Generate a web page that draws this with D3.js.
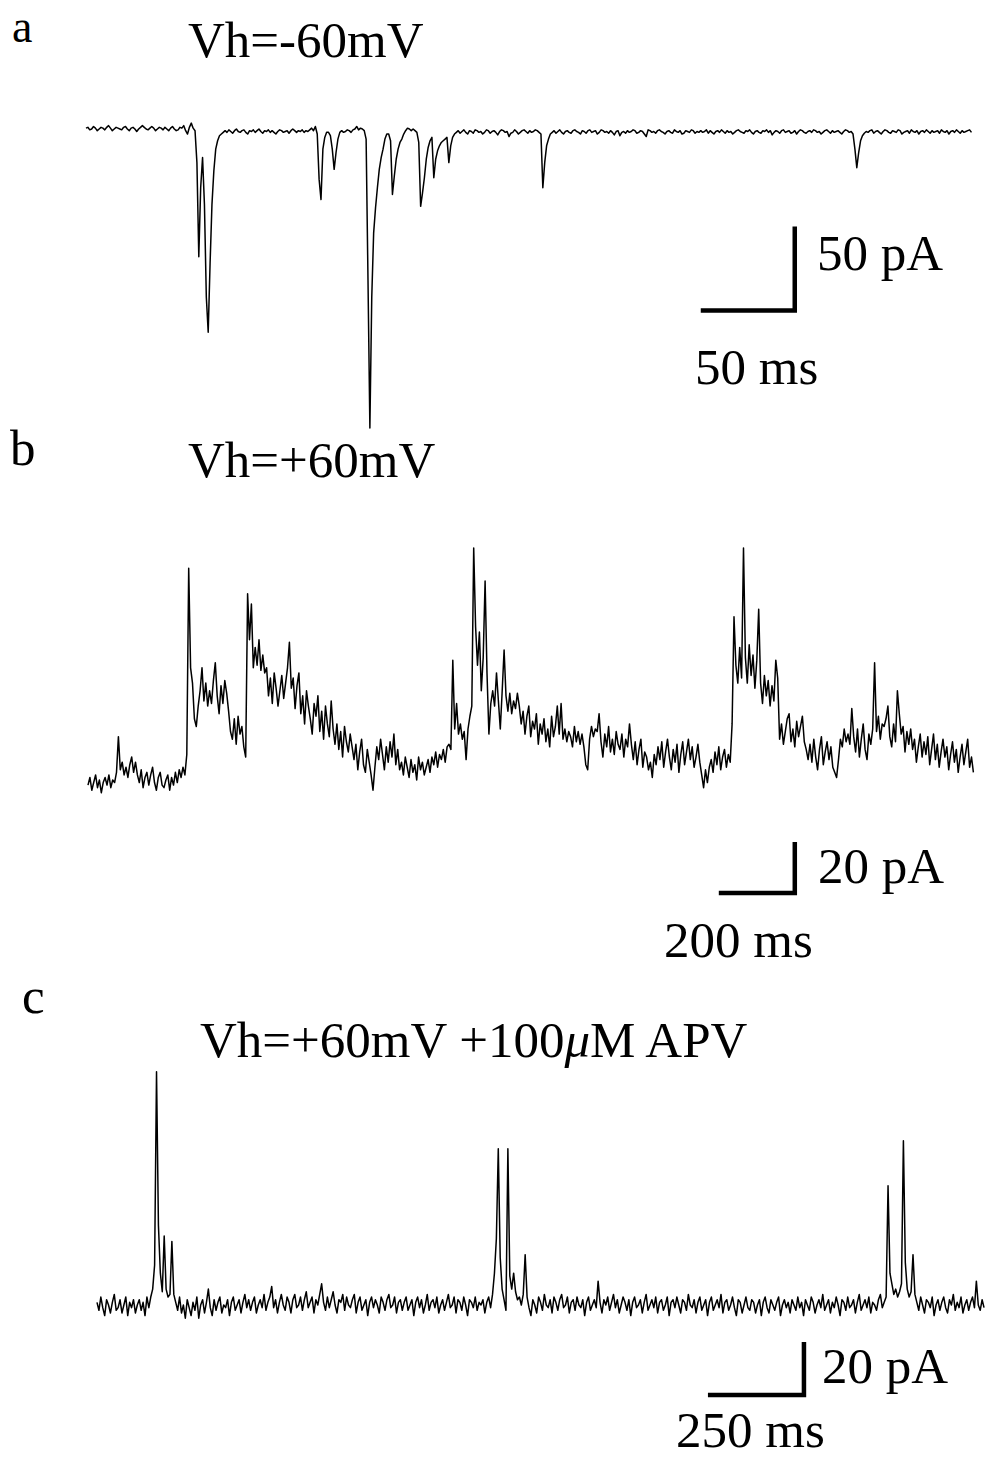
<!DOCTYPE html>
<html><head><meta charset="utf-8">
<script src="https://cdn.jsdelivr.net/npm/d3@7"></script>
<style>body{margin:0;background:#fff}svg{display:block}</style>
</head><body><svg id="fig" width="986" height="1459"></svg>
<script>
// ---------------- DATA ----------------
const panelLetters = ["a", "b", "c"];
const holdingLabels = ["Vh=-60mV", "Vh=+60mV", "Vh=+60mV +100"];
const sampleMs = [1, 5, 5];              // sampling interval of each trace (ms)
const barTimeMs = [50, 200, 250];        // time scale bars
const barCurrentPA = [50, 20, 20];       // current scale bars

// trace a: Vh=-60mV, current in pA, 1 ms per sample
const traceA = [
 0.5,1,-0.5,0,1.5,0.5,-1,0,1,0.5,-0.5,1,2,0.5,-1,0,1,0.5,0,-0.5,
 1,1.5,0,-1,0.5,1,0,-1.5,0,1,2,1,0,-0.5,0.5,1.5,0.5,-1,0,1,
 0.5,-0.5,1,0,-1,0.5,1.5,0,-1,-0.5,1,0.5,2,-1,-3,1,3.5,
 0.5,-1,-20,-76,-35,-17,-45,-100,-121,-80,-45,-25,-12,-7,-4,-3,-2,
 -1,-2,-0.5,-1.5,-2.5,-1,0,-1.5,-2,-1,-0.5,-2,-3,-1,-1.5,-0.5,-2,-1,0,-1.5,
 -2.5,-1,-1.5,-0.5,-2,-1,-2,-3,-1.5,-0.5,-1,-2,-1.5,-1,-2.5,-1,0,-1,-2,-1,
 -1.5,-0.5,-2,-1,-1.5,-0.5,0.5,-1,1.5,
 -3,-30,-42,-12,-5,-2,-2,-4,-12,-24,-14,-6,-2,
 -1,-2,-1.5,-0.5,-1,-2,-0.5,0,1.5,-0.5,0.5,0,
 -1,-6,-90,-178,-100,-62,-47,-35,-24,-17,
 -12,-6,-3,-3,-7,-39,-28,-18,-12,-8,
 -6,-3,-1,0.5,0,-1,0,-1,-2,-8,
 -46,-38,-29,-18,-11,-7,-5,-29,-18,-13,
 -10,-8,-7,-6,-5,-20,-10,-5,-3,-2,
 -1,-2.5,-1.5,-0.5,-2,-3,-1,-1.5,-2.5,-0.5,-1,-2,-1.5,-3,-2,-0.5,-1,-2.5,-1.5,-1,
 -2,-3.5,-1.5,-0.5,-1,-2,-1.5,-4.5,-2.5,-2,-0.5,-1.5,-3,-2,-1,-0.5,-1.5,-2.5,-1,-2,
 -1.5,-0.5,-1,-2,
 -3,-35,-20,-10,-6,-3,
 -2,-1,-2.5,-1.5,-0.5,-2,-3,-1.5,-1,-2,-2.5,-1,-0.5,-1.5,-2,-3,-1,-1.5,-2.5,-1,
 -0.5,-2,-1.5,-1,-3,-2,-0.5,-1,-2,-1.5,-2.5,-1,-2,-3.5,-1.5,-1,-4,-2,-1.5,-2.5,
 -1,-2,-1.5,-0.5,-1,-2.5,-2,-1,-1.5,-3,-4.5,-0.5,-1,-2,-1.5,-2.5,-1,-0.5,-1.5,-2,
 -3,-1.5,-1,-2,-2.5,-0.5,-1.5,-2,-1,-3,-2.5,-1,-1.5,-2,-0.5,-1,-2.5,-1.5,-2,-1,
 -2,-1.5,-0.5,-2.5,-1,-2,-3,-1.5,-1,-2,-0.5,-1.5,-2.5,-1,-2,-1.5,-3,-2,-1,-0.5,
 -1.5,-2,-2.5,-1,-1.5,-0.5,-2,-3,-1.5,-1,-2,-2.5,-1,-1.5,-0.5,-2,-1,-3.5,-2,-1,
 -1.5,-2.5,-1,-0.5,-2,-1.5,-1,-2.5,-2,-1,-3,-1.5,-0.5,-1,-2,-2.5,-1.5,-1,-2,-0.5,
 -1,-2,-1.5,-3,-2,-1,-0.5,-1.5,-2.5,-1,-2,-1.5,-1,-2,-3,-1.5,-0.5,-1,-2,-1.5,
 -3,-12,-23,-14,-7,-4,-2.5,
 -1.5,-2,-1,-0.5,-2.5,-1.5,-1,-2,-3,-1.5,-0.5,-1,-2,-2.5,-1,-1.5,-2,-0.5,-1,-3,
 -2,-1.5,-1,-2.5,-0.5,-1.5,-2,-1,-3,-1.5,-1,-2,-0.5,-1.5,-2.5,-1,-2,-1.5,-1,-2.5,
 -0.5,-1.5,-2,-1,-3,-1.5,-1,-2,-0.5,-1.5,-2.5,-1,-2,-1.5,-1,-0.5,-2
];

// trace b: Vh=+60mV, current in pA, 5 ms per sample
const traceB = [
 -2,1,-4,-1,2,-3,0,-5,-1,1,-2,2,-3,0,-1,3,17,4,7,2,
 5,1,6,9,3,7,2,-1,4,-3,1,3,-2,2,5,-1,-4,1,3,-2,
 -3,0,2,-4,1,-2,3,-1,4,1,5,2,10,83,44,38,24,21,29,35,
 44,31,38,29,35,30,39,46,33,26,37,30,39,34,27,19,16,24,14,25,
 18,21,13,9,73,55,69,44,52,45,55,43,49,42,44,33,40,30,42,36,
 29,35,41,32,38,44,54,36,40,28,37,42,26,33,22,35,29,24,18,30,
 25,33,19,27,16,29,22,17,31,20,14,22,12,19,9,21,15,11,18,13,
 8,14,4,11,16,6,3,12,7,2,-4,5,13,8,16,10,4,13,7,15,
 9,18,6,12,4,7,2,9,5,1,8,3,6,0,9,4,7,2,5,8,
 3,9,6,11,5,10,8,12,7,13,14,12,47,20,30,18,22,16,19,8,
 20,25,29,91,60,45,58,35,48,78,42,18,30,35,29,42,31,20,35,51,
 33,27,34,26,31,28,34,29,22,27,18,25,29,17,23,20,26,14,22,18,
 24,15,20,13,25,17,21,29,18,30,16,20,15,19,17,13,21,15,19,14,
 18,13,6,4,16,21,17,20,19,26,15,9,18,13,21,11,16,10,19,14,
 12,18,9,16,13,22,14,8,15,6,12,16,5,11,9,4,7,1,10,6,
 13,8,15,5,11,16,9,4,12,7,14,3,10,15,6,11,16,8,13,5,
 9,14,7,2,-3,4,-1,5,8,3,11,6,13,4,9,12,5,10,7,22,
 64,45,38,52,40,91,48,38,53,41,49,36,47,67,38,30,41,33,39,29,
 37,31,47,40,16,22,14,19,24,26,15,20,13,23,17,21,25,15,12,8,
 14,7,16,9,4,12,17,6,11,15,8,13,5,3,1,8,16,13,20,15,
 18,14,28,17,11,20,9,16,22,12,8,18,14,20,46,19,25,16,22,21,
 24,29,17,13,22,15,35,26,18,21,11,19,14,20,12,16,7,13,18,9,
 15,10,17,6,12,18,8,14,5,11,16,9,13,4,10,15,7,12,3,9,
 14,6,11,16,5,9,3
];

// trace c: Vh=+60mV + 100 uM APV, current in pA, 5 ms per sample
const traceC = [
 1,-2,3,-1,-4,2,0,-3,1,4,-2,-1,2,-3,0,3,-4,1,-1,2,
 -3,0,2,-2,1,-4,3,-1,3,6,15,88,30,12,5,26,6,3,4,24,
 4,1,-2,3,-3,0,-5,2,-1,-4,1,-2,3,-5,0,2,-3,1,6,-1,
 -4,2,-2,1,3,-3,0,-1,2,-4,1,3,-2,0,2,-3,1,4,-1,2,
 -2,1,3,-3,0,2,-1,4,-2,1,3,7,-1,2,-3,1,4,0,-2,3,
 1,-3,2,4,-1,0,3,-2,2,5,-1,1,3,-3,2,0,4,8,1,-2,
 3,-1,2,5,0,-3,2,1,4,-2,3,0,-1,2,4,-3,1,3,-2,0,
 2,-4,1,3,-1,2,0,-3,3,1,-2,2,4,-1,0,3,-3,1,2,-2,
 1,3,-2,0,2,-4,1,3,-1,2,-3,0,4,-2,1,2,-1,3,-3,0,
 2,-2,1,4,-1,0,3,-3,2,1,-2,3,0,-4,2,1,-1,3,-2,1,
 0,2,-3,1,3,-1,4,12,25,59,18,6,2,-2,59,11,6,12,5,2,
 3,0,4,19,3,-1,-4,2,0,-3,3,1,-2,4,0,-1,2,-3,3,1,
 -2,2,4,-1,0,3,-3,1,2,-2,3,0,-1,2,-4,1,3,-2,0,2,
 -1,9,1,-3,2,0,3,-2,1,4,-1,2,-3,0,3,1,-2,2,-4,1,
 3,-1,0,2,-3,1,4,-2,0,2,-1,3,-3,1,2,-2,0,3,-4,1,
 2,-1,3,0,-3,2,1,-2,4,0,-1,2,-3,1,3,-2,0,2,-4,1,
 3,-2,0,2,-1,4,-3,1,2,-2,0,3,-1,-4,2,1,-3,0,3,-1,
 -2,2,1,-3,0,2,-4,1,3,-1,-3,2,0,-2,1,3,-4,0,2,-1,
 1,-3,2,0,-2,3,-1,1,-4,2,0,-2,3,1,-3,0,2,-1,4,-2,
 0,2,-3,1,-1,3,0,-4,2,1,-2,3,-1,0,2,-3,1,4,-2,0,
 2,-1,3,-3,1,0,-2,2,4,-1,1,3,45,12,8,4,6,3,5,8,
 62,16,6,3,5,19,4,1,-2,3,0,-3,2,1,-1,3,-4,0,2,-2,
 1,3,-1,-3,2,0,4,-2,1,-1,3,-3,0,2,-2,1,3,-1,9,0,
 -2,2,-1
];
const traces = [traceA, traceB, traceC];

// ---------------- LAYOUT ----------------
const layout = [
  { x0: 86, pxPerMs: 1.88, y0: 129, pxPerPA: 1.68, bar: [377, -108], lw: 1.5,
    letter: [12, 42], title: [188, 57], iLabel: [817, 270], tLabel: [695, 384] },
  { x0: 88, pxPerMs: 0.38, y0: 780, pxPerPA: 2.55, bar: [1860, -44.3], lw: 1.5,
    letter: [10, 465], title: [188, 477], iLabel: [818, 883], tLabel: [664, 957] },
  { x0: 97, pxPerMs: 0.384, y0: 1305, pxPerPA: 2.65, bar: [1841, -34], lw: 1.5,
    letter: [22, 1013], title: [200, 1057], iLabel: [822, 1383], tLabel: [676, 1447] }
];

const svg = d3.select("#fig");
const FONT = "'Liberation Serif', 'Times New Roman', serif";
const FS = 51;

layout.forEach((L, k) => {
  const data = traces[k];
  const dt = sampleMs[k];
  const tMax = (data.length - 1) * dt;
  const x = d3.scaleLinear().domain([0, tMax]).range([L.x0, L.x0 + tMax * L.pxPerMs]);
  const y = d3.scaleLinear().domain([0, 100]).range([L.y0, L.y0 - 100 * L.pxPerPA]);

  const g = svg.append("g");

  g.append("path")
    .datum(data)
    .attr("fill", "none")
    .attr("stroke", "#000")
    .attr("stroke-width", L.lw)
    .attr("stroke-linejoin", "round")
    .attr("d", d3.line().x((d, i) => x(i * dt)).y(d => y(d)));

  // scale bar (L-shape): horizontal = barTimeMs, vertical = barCurrentPA
  const [bt, bv] = L.bar;
  const barPath = d3.path();
  barPath.moveTo(x(bt - barTimeMs[k]), y(bv));
  barPath.lineTo(x(bt), y(bv));
  barPath.lineTo(x(bt), y(bv + barCurrentPA[k]));
  g.append("path")
    .attr("d", barPath.toString())
    .attr("fill", "none")
    .attr("stroke", "#000")
    .attr("stroke-width", 4.5)
    .attr("stroke-linejoin", "miter");

  const txt = (pos, s, fs) => g.append("text")
    .attr("x", pos[0]).attr("y", pos[1])
    .attr("font-family", FONT).attr("font-size", fs || FS).attr("fill", "#000")
    .text(s);

  txt(L.letter, panelLetters[k], k === 0 ? 46 : FS);
  const title = txt(L.title, holdingLabels[k]);
  if (k === 2) {
    title.append("tspan").attr("font-style", "italic").text("\u03bc");
    title.append("tspan").text("M APV");
  }
  txt(L.iLabel, barCurrentPA[k] + " pA");
  txt(L.tLabel, barTimeMs[k] + " ms");
});
</script>
</body></html>
